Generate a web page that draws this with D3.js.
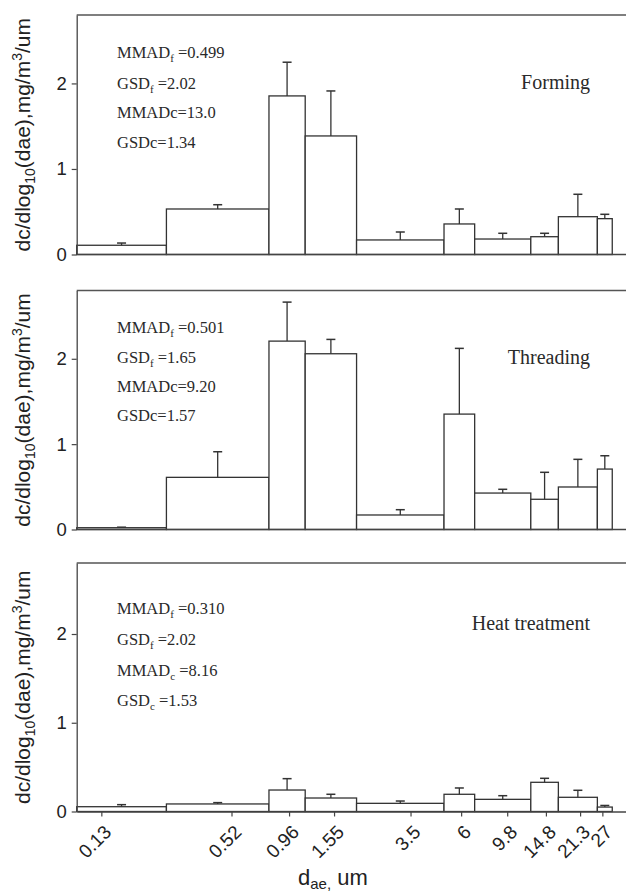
<!DOCTYPE html>
<meta charset="utf-8">
<style>
body { margin: 0; background: #fff; }
.ann { font-family: "Liberation Serif", "Times New Roman", serif; fill: #2a2a2a; }
.ax text { font-family: "Liberation Sans", Arial, sans-serif; fill: #222; }
</style>
<svg id="fig" width="626" height="895"></svg>
<script src="https://d3js.org/d3.v7.min.js"></script>
<script>

// bin edges of the impactor stages (um) and the tick labels
var binEdges = [0.1, 0.26, 0.775, 1.14, 1.97, 5.0, 6.93, 12.6, 16.9, 25.6, 30.0];
var tickVals = [0.13, 0.52, 0.96, 1.55, 3.5, 6, 9.8, 14.8, 21.3, 27];

var formingMean = [0.108, 0.532, 1.854, 1.386, 0.170, 0.357, 0.181, 0.208, 0.442, 0.419];
var formingSd   = [0.026, 0.050, 0.394, 0.526, 0.093, 0.175, 0.067, 0.040, 0.262, 0.051];
var threadMean  = [0.021, 0.611, 2.207, 2.059, 0.170, 1.352, 0.427, 0.354, 0.498, 0.708];
var threadSd    = [0.006, 0.300, 0.457, 0.168, 0.062, 0.770, 0.044, 0.316, 0.324, 0.156];
var heatMean    = [0.054, 0.085, 0.242, 0.152, 0.092, 0.194, 0.137, 0.329, 0.160, 0.050];
var heatSd      = [0.023, 0.015, 0.128, 0.042, 0.026, 0.071, 0.041, 0.045, 0.079, 0.018];

// stats text: [main, subscript, rest]
var formingStats = [["MMAD","f"," =0.499"],["GSD","f"," =2.02"],["MMADc=13.0","",""],["GSDc=1.34","",""]];
var threadStats  = [["MMAD","f"," =0.501"],["GSD","f"," =1.65"],["MMADc=9.20","",""],["GSDc=1.57","",""]];
var heatStats    = [["MMAD","f"," =0.310"],["GSD","f"," =2.02"],["MMAD","c"," =8.16"],["GSD","c"," =1.53"]];

var yTicks = [0, 1, 2];

var svg = d3.select("#fig");
var W = +svg.attr("width");

var x = d3.scaleLog().domain([0.1, 100]).range([76.7, 725.3]);

var panels = [
  {name:"Forming",        mean:formingMean, sd:formingSd, stats:formingStats, top:15,  bottom:254.5, statY:[58,89,118,148],  nameY:89},
  {name:"Threading",      mean:threadMean,  sd:threadSd,  stats:threadStats,  top:290.5, bottom:529.5, statY:[333,363,392,421], nameY:364},
  {name:"Heat treatment", mean:heatMean,    sd:heatSd,    stats:heatStats,    top:563, bottom:811.5, statY:[614,645,676,706], nameY:630}
];

panels.forEach(function(p, pi){
  var y = d3.scaleLinear().domain([0, 2.8]).range([p.bottom, p.top]);
  var g = svg.append("g");

  var bins = p.mean.map(function(m, i){
    return {x0: binEdges[i], x1: binEdges[i+1], m: m, e: m + p.sd[i]};
  });

  // bars
  g.selectAll(".bar").data(bins).enter().append("rect")
    .attr("class","bar")
    .attr("x", function(d){ return x(d.x0); })
    .attr("width", function(d){ return x(d.x1) - x(d.x0); })
    .attr("y", function(d){ return y(d.m); })
    .attr("height", function(d){ return y(0) - y(d.m); })
    .attr("fill","#fff")
    .attr("stroke","#333")
    .attr("stroke-width",1.3);

  // error bars (upper only)
  var cx = function(d){ return (x(d.x0) + x(d.x1)) / 2; };
  g.selectAll(".err").data(bins).enter().append("line")
    .attr("x1", cx).attr("x2", cx)
    .attr("y1", function(d){ return y(d.m); })
    .attr("y2", function(d){ return y(d.e); })
    .attr("stroke","#333").attr("stroke-width",1.3);
  g.selectAll(".cap").data(bins).enter().append("line")
    .attr("x1", function(d){ return cx(d) - 4.5; })
    .attr("x2", function(d){ return cx(d) + 4.5; })
    .attr("y1", function(d){ return y(d.e); })
    .attr("y2", function(d){ return y(d.e); })
    .attr("stroke","#333").attr("stroke-width",1.5);

  // top frame and baseline
  g.append("line").attr("x1", x(0.1)).attr("x2", W)
    .attr("y1", p.top).attr("y2", p.top)
    .attr("stroke","#555").attr("stroke-width",1.5);

  if (pi < 2) {
    g.append("line").attr("x1", x(0.1)).attr("x2", W)
      .attr("y1", p.bottom).attr("y2", p.bottom)
      .attr("stroke","#444").attr("stroke-width",1.3);
  } else {
    var xa = g.append("g").attr("class","ax")
      .attr("transform","translate(0," + p.bottom + ")")
      .call(d3.axisBottom(x).tickValues(tickVals).tickSize(5).tickSizeOuter(0)
        .tickFormat(function(d){ return String(d); }));
    xa.select(".domain").attr("stroke","#444").attr("stroke-width",1.3);
    xa.selectAll(".tick line").attr("stroke","#444").attr("stroke-width",1.2);
    xa.selectAll(".tick text")
      .attr("font-size", 19)
      .attr("text-anchor","end")
      .attr("x", 0).attr("y", 0).attr("dy", "0.35em")
      .attr("transform","translate(6,17) rotate(-45)");
  }

  // y axis
  var ya = g.append("g").attr("class","ax")
    .attr("transform","translate(" + x(0.1) + ",0)")
    .call(d3.axisLeft(y).tickValues(yTicks).tickSize(5).tickSizeOuter(0).tickPadding(5)
      .tickFormat(d3.format("d")));
  ya.select(".domain").attr("stroke","#444").attr("stroke-width",1.3);
  ya.selectAll(".tick line").attr("stroke","#444").attr("stroke-width",1.2);
  ya.selectAll(".tick text").attr("font-size", 18.5);

  // y label
  var yl = g.append("text").attr("class","ax")
    .attr("transform","translate(30," + ((p.top + p.bottom) / 2) + ") rotate(-90)")
    .attr("text-anchor","middle")
    .style("font-family","'Liberation Sans', Arial, sans-serif")
    .style("font-size","21px")
    .attr("fill","#222");
  yl.append("tspan").text("dc/dlog");
  yl.append("tspan").attr("dy",5).style("font-size","14px").text("10");
  yl.append("tspan").attr("dy",-5).text("(dae),mg/m");
  yl.append("tspan").attr("dy",-8).style("font-size","14px").text("3");
  yl.append("tspan").attr("dy",8).text("/um");

  // stats
  p.stats.forEach(function(s, i){
    var t = g.append("text").attr("class","ann")
      .attr("x",117).attr("y",p.statY[i])
      .style("font-size","16.5px");
    t.append("tspan").text(s[0]);
    if (s[1]) {
      t.append("tspan").attr("dy",4).style("font-size","11px").text(s[1]);
      t.append("tspan").attr("dy",-4).text(s[2]);
    }
  });

  g.append("text").attr("class","ann")
    .attr("x",590).attr("y",p.nameY)
    .attr("text-anchor","end")
    .style("font-size","20px")
    .text(p.name);
});

// x label
var xl = svg.append("text")
  .attr("x",298).attr("y",885)
  .style("font-family","'Liberation Sans', Arial, sans-serif")
  .style("font-size","22px")
  .attr("fill","#222");
xl.append("tspan").text("d");
xl.append("tspan").attr("dy",4).style("font-size","15px").text("ae,");
xl.append("tspan").attr("dy",-4).text(" um");

</script>
